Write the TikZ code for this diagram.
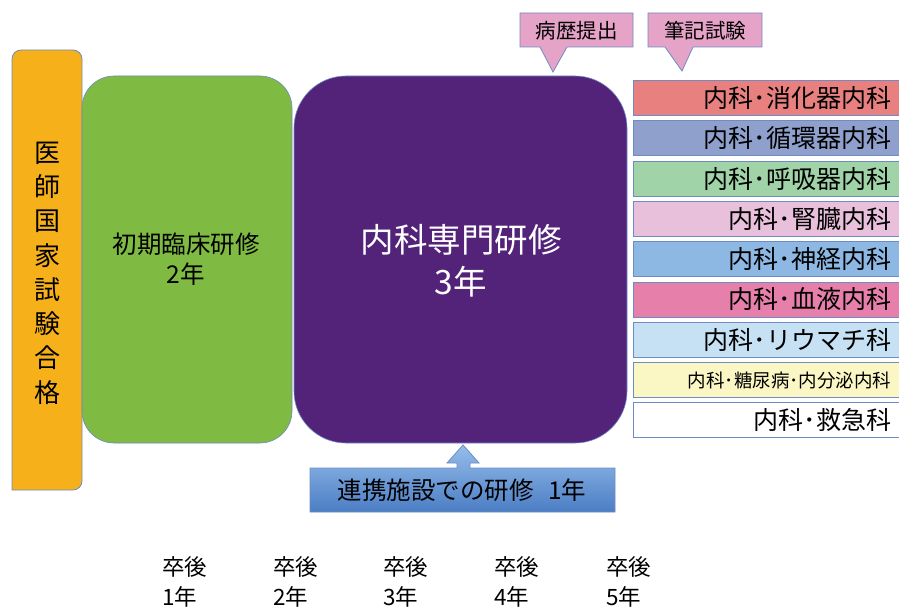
\documentclass[tikz,border=0pt]{standalone}
\usepackage{fontspec}
\setmainfont{Noto Sans CJK JP}
\usetikzlibrary{shadings}
\definecolor{borderblue}{RGB}{110,140,195}
\definecolor{orangebar}{RGB}{245,176,26}
\definecolor{greenbox}{RGB}{127,186,66}
\definecolor{purplebox}{RGB}{83,35,121}
\definecolor{calloutpink}{RGB}{230,163,200}
\definecolor{cA}{RGB}{233,128,128}
\definecolor{cB}{RGB}{143,160,204}
\definecolor{cC}{RGB}{160,212,168}
\definecolor{cD}{RGB}{232,192,220}
\definecolor{cE}{RGB}{141,184,228}
\definecolor{cF}{RGB}{230,127,170}
\definecolor{cG}{RGB}{198,224,244}
\definecolor{cH}{RGB}{251,247,196}
\definecolor{cI}{RGB}{255,255,255}
\definecolor{arrowtop}{RGB}{150,190,235}
\definecolor{arrowbot}{RGB}{75,125,196}
\tikzset{
  spec/.style={draw=borderblue, line width=0.9pt, anchor=north west,
    minimum height=35pt, text width=245pt, inner xsep=13pt, inner ysep=0pt,
    align=right, font=\fontsize{25}{28}\selectfont},
  callout/.style={fill=calloutpink, draw=borderblue, line width=0.8pt},
  calltext/.style={font=\fontsize{20.5}{24}\selectfont},
  yearlabel/.style={anchor=north west, align=left, inner sep=0pt,
    font=\fontsize{22.5}{30}\selectfont},
}
\begin{document}
\begin{tikzpicture}[x=1pt,y=-1pt]
\useasboundingbox (0,0) rectangle (899,607);
\clip (0,0) rectangle (899,607);
% orange bar
\path[fill=orangebar, draw=borderblue, line width=0.8pt, rounded corners=9pt]
  (12,490) -- (12,50) -- (82,50) -- (82,490) [sharp corners] -- cycle;
\node[align=center, font=\fontsize{26}{34.3}\selectfont] (pass) at (47,273)
  {医\\師\\国\\家\\試\\験\\合\\格};
% green box
\path[fill=greenbox, draw=borderblue, line width=0.6pt, rounded corners=32pt]
  (82,76) rectangle (292,443);
\node[align=center, font=\fontsize{24.5}{30}\selectfont] (initial) at (186,259)
  {初期臨床研修\\2年};
% purple box
\path[fill=purplebox, draw=borderblue, line width=0.6pt, rounded corners=52pt]
  (294,76) rectangle (627,443);
\node[align=center, text=white, font=\fontsize{33.5}{42}\selectfont] (spec3) at (461,261)
  {内科専門研修\\3年};
% callouts
\path[callout] (520,13) -- (633,13) -- (633,47) -- (567,47) -- (553,72) -- (540,47) -- (520,47) -- cycle;
\node[calltext] (c1) at (576.5,31) {病歴提出};
\path[callout] (648,13) -- (762,13) -- (762,47) -- (693,47) -- (682,71) -- (665,47) -- (648,47) -- cycle;
\node[calltext] (c2) at (705,31) {筆記試験};
% specialty boxes
\node[spec, fill=cA] (s1) at (633,80) {内科･消化器内科};
\node[spec, fill=cB] (s2) at (633,120.3) {内科･循環器内科};
\node[spec, fill=cC] (s3) at (633,160.6) {内科･呼吸器内科};
\node[spec, fill=cD] (s4) at (633,200.9) {内科･腎臓内科};
\node[spec, fill=cE] (s5) at (633,241.2) {内科･神経内科};
\node[spec, fill=cF] (s6) at (633,281.5) {内科･血液内科};
\node[spec, fill=cG] (s7) at (633,321.8) {内科･リウマチ科};
\node[spec, fill=cH, font=\fontsize{18.5}{22}\selectfont] (s8) at (633,362.1) {内科･糖尿病･内分泌内科};
\node[spec, fill=cI] (s9) at (633,402.4) {内科･救急科};
% bottom arrow box
\path[top color=arrowtop, bottom color=arrowbot, draw=borderblue, line width=0.8pt]
  (310,468) -- (457,468) -- (457,463) -- (447,463) -- (463,445) -- (479,463)
  -- (470,463) -- (470,468) -- (615,468) -- (615,512) -- (310,512) -- cycle;
\node[font=\fontsize{24.5}{28}\selectfont] (coop) at (462,490) {連携施設での研修\hspace{0.6em}1年};
% year labels
\node[yearlabel] (y1) at (162,556) {卒後\\1年};
\node[yearlabel] (y2) at (273,556) {卒後\\2年};
\node[yearlabel] (y3) at (383,556) {卒後\\3年};
\node[yearlabel] (y4) at (494,556) {卒後\\4年};
\node[yearlabel] (y5) at (606,556) {卒後\\5年};
\end{tikzpicture}
\end{document}
